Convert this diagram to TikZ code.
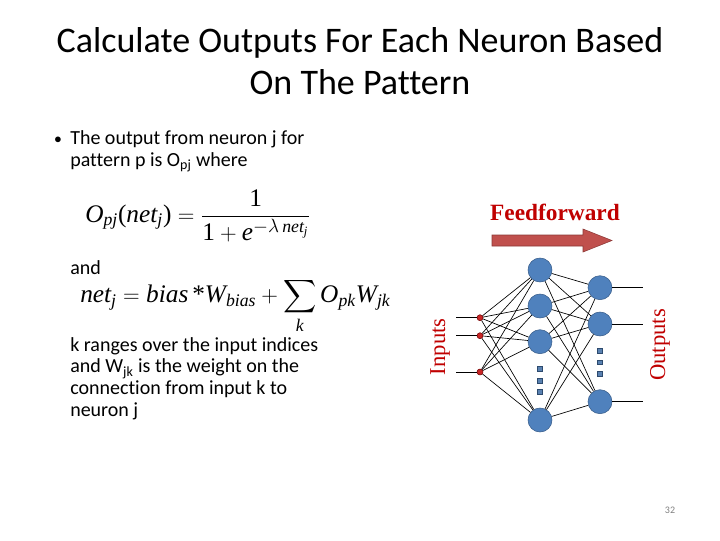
\documentclass[tikz,border=0pt]{standalone}
\usepackage{fontspec}
\usepackage{amsmath}
\setmainfont{Carlito}[Ligatures=NoCommon]
\newfontfamily\eqfont{Liberation Serif}
\newcommand{\ti}[1]{\text{\eqfont\itshape #1}}
\definecolor{neuronblue}{RGB}{79,129,189}
\definecolor{neuronedge}{RGB}{56,93,138}
\definecolor{labelred}{RGB}{192,0,0}
\definecolor{arrowred}{RGB}{192,80,77}
\definecolor{arrowedge}{RGB}{140,56,54}

\begin{document}
\begin{tikzpicture}[x=0.75pt,y=0.75pt,yscale=-1,xscale=1,
  neuron/.style={circle,draw=neuronedge,fill=neuronblue,minimum size=18pt,inner sep=0pt},
  indot/.style={circle,draw=labelred!60!black,fill=labelred!85!white,minimum size=4.5pt,inner sep=0pt},
  more/.style={rectangle,draw=neuronedge!80!black,fill=neuronblue!80!gray,minimum size=3.6pt,inner sep=0pt},
  link/.style={line width=0.5pt},
  txt/.style={anchor=north west,inner sep=0pt,align=left,font=\fontsize{15}{16.3}\selectfont}]
% page frame
\path[use as bounding box] (0,0) rectangle (720,540);

% Title
\node[align=center,font=\fontsize{27}{32}\selectfont] (title) at (360,61) {Calculate Outputs For Each Neuron Based\\On The Pattern};

% Bullet text
\node[inner sep=0pt,font=\fontsize{11}{14}\selectfont] (bullet) at (58,140) {$\bullet$};
\node[txt,font=\fontsize{15}{16.5}\selectfont] (outtxt) at (70,130) {The output from neuron j for\\pattern p is O$_{\text{pj}}$ where};

% Equation: output
\node[anchor=west,inner sep=0pt,font=\fontsize{19}{22}\selectfont] (eqout) at (85,216)
  {$\ti{O}_{\ti{pj}}\text{\eqfont(}\ti{net}_{\ti{j}}\text{\eqfont)} = \dfrac{\text{\eqfont 1}}{\text{\eqfont 1}+\ti{e}^{-\lambda\,\ti{net}_{\ti{j}}}}$};

% Text Node
\node[anchor=west,inner sep=0pt,font=\fontsize{15}{16.3}\selectfont] (andtxt) at (70,268) {and};

% Equation: net input
\node[anchor=west,inner sep=0pt,font=\fontsize{19}{22}\selectfont] (eqnet) at (80,306)
  {$\ti{net}_{\ti{j}} = \ti{bias}\,\text{\eqfont *}\ti{W}_{\ti{bias}} + \displaystyle\sum_{\ti{k}} \ti{O}_{\ti{pk}}\ti{W}_{\ti{jk}}$};

% Text Node
\node[txt] (ktxt) at (70,337) {k ranges over the input indices\\and W$_{\text{jk}}$ is the weight on the\\connection from input k to\\neuron j};

% Feedforward arrow
\node[font=\eqfont\bfseries\fontsize{17.5}{20}\selectfont,text=labelred] (ff) at (555,212) {Feedforward};
\draw[fill=arrowred,draw=arrowedge] (492,235) -- (583,235) -- (583,229) -- (612,240.5) -- (583,252) -- (583,246) -- (492,246) -- cycle;

% Neurons
\node[indot] (i1) at (480,317.7) {};
\node[indot] (i2) at (480,335.7) {};
\node[indot] (i3) at (480,372) {};
\node[neuron] (h1) at (540,270) {};
\node[neuron] (h2) at (540,306) {};
\node[neuron] (h3) at (540,341.7) {};
\node[neuron] (h4) at (540,420) {};
\node[neuron] (o1) at (600,287.7) {};
\node[neuron] (o2) at (600,324) {};
\node[neuron] (o3) at (600,401.7) {};

% dots for omitted neurons
\node[more] (hd1) at (540,369) {};
\node[more] (hd2) at (540,380.7) {};
\node[more] (hd3) at (540,392) {};
\node[more] (od1) at (600,351) {};
\node[more] (od2) at (600,362.3) {};
\node[more] (od3) at (600,374) {};

% input and output lines
\coordinate (x1) at (456,317.7);
\coordinate (x2) at (456,335.7);
\coordinate (x3) at (456,372);
\coordinate (y1) at (643,287.7);
\coordinate (y2) at (643,324);
\coordinate (y3) at (643,401.7);
\foreach \n in {1,2,3}{
  \draw[link] (x\n) -- (i\n);
  \draw[link] (o\n) -- (y\n);
}

% connections
\foreach \i in {1,2,3}
  \foreach \h in {1,...,4}
    \draw[link] (i\i) -- (h\h);
\foreach \h in {1,...,4}
  \foreach \o in {1,2,3}
    \draw[link] (h\h) -- (o\o);

% side labels
\node[rotate=90,font=\eqfont\fontsize{17}{20}\selectfont,text=labelred] (inlab) at (440,346.7) {Inputs};
\node[rotate=90,font=\eqfont\fontsize{17}{20}\selectfont,text=labelred] (outlab) at (660,345) {Outputs};

% slide number
\node[font=\fontsize{7.5}{9}\selectfont,text=gray] (pgnum) at (670,510) {32};
\end{tikzpicture}
\end{document}
